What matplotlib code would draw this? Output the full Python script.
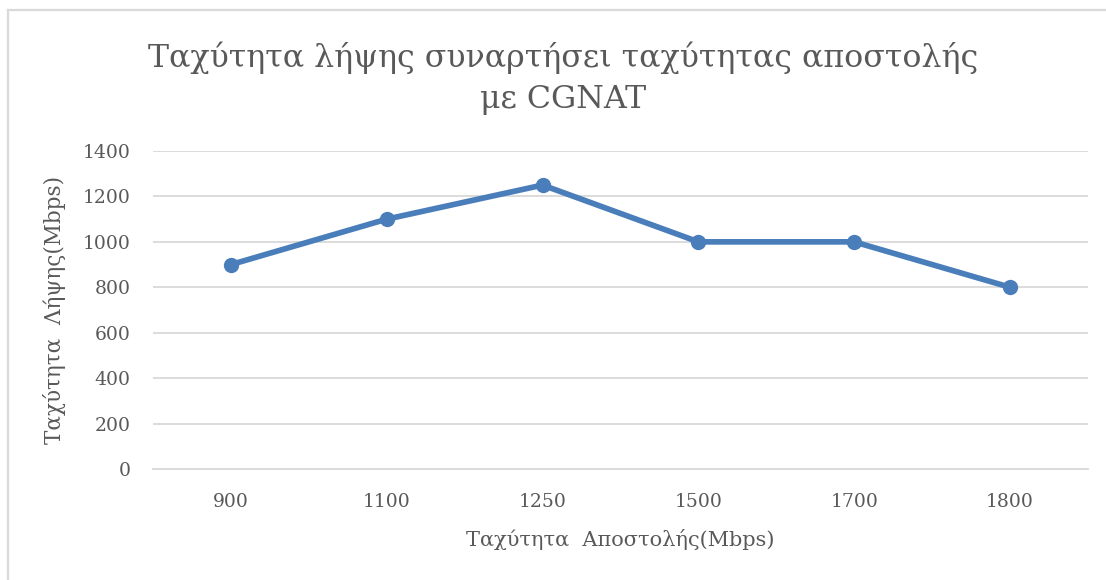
import matplotlib
matplotlib.use("Agg")
import matplotlib.pyplot as plt
from matplotlib.lines import Line2D

upload_speeds = ["900", "1100", "1250", "1500", "1700", "1800"]
download_speeds = [900, 1100, 1250, 1000, 1000, 800]
y_ticks = [0, 200, 400, 600, 800, 1000, 1200, 1400]

title = "Ταχύτητα λήψης συναρτήσει ταχύτητας αποστολής\nμε CGNAT"
x_label = "Ταχύτητα  Αποστολής(Mbps)"
y_label = "Ταχύτητα  Λήψης(Mbps)"

text_color = "#595959"
grid_color = "#D9D9D9"
line_color = "#4A7EBB"
serif = ["DejaVu Serif", "Liberation Serif"]

W, H = 1106, 580
fig = plt.figure(figsize=(W / 100, H / 100), dpi=100)
fig.patch.set_facecolor("white")

# chart frame: left and top edges
bx, by = 7.5 / W, 1 - 10 / H
fig.add_artist(Line2D([bx, bx], [0, by], transform=fig.transFigure,
                      color=grid_color, linewidth=1.6))
fig.add_artist(Line2D([bx, 1], [by, by], transform=fig.transFigure,
                      color=grid_color, linewidth=1.6))

left, right = 153 / W, 1088 / W
bottom, top = 1 - 469 / H, 1 - 151 / H
ax = fig.add_axes([left, bottom, right - left, top - bottom])

x = list(range(len(upload_speeds)))
ax.plot(x, download_speeds, color=line_color, linewidth=4.1,
        marker="o", markersize=10, solid_capstyle="round",
        solid_joinstyle="round", zorder=3)

ax.set_xlim(-0.5, len(upload_speeds) - 0.5)
ax.set_ylim(0, 1400)
ax.set_yticks(y_ticks)
ax.set_xticks(x)
ax.set_xticklabels(upload_speeds)

ax.grid(axis="y", color=grid_color, linewidth=1.3)
ax.set_axisbelow(True)
for side in ["top", "right", "left"]:
    ax.spines[side].set_visible(False)
ax.spines["bottom"].set_color(grid_color)
ax.spines["bottom"].set_linewidth(1.3)
ax.tick_params(length=0, colors=text_color, labelsize=13.5)
ax.tick_params(axis="x", pad=17)
ax.tick_params(axis="y", pad=16)
for lab in ax.get_xticklabels() + ax.get_yticklabels():
    lab.set_fontfamily(serif)

ax.set_xlabel(x_label, fontsize=15, color=text_color, family=serif, labelpad=13)
ax.set_ylabel(y_label, fontsize=15.5, color=text_color, family=serif, labelpad=12)

fig.text(0.509, 1 - 78 / H, title, ha="center", va="center",
         fontsize=22.8, color=text_color, family=serif, linespacing=1.4)

fig.savefig("out.png", dpi=100, facecolor="white")
